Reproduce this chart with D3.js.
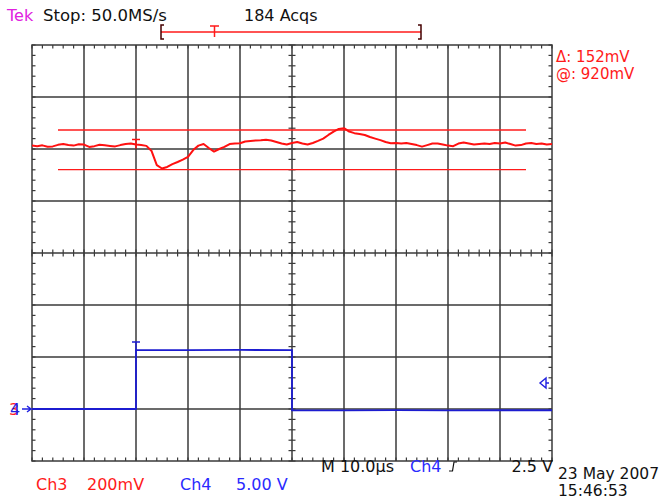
<!DOCTYPE html>
<html>
<head>
<meta charset="utf-8">
<script src="https://cdn.jsdelivr.net/npm/d3@7"></script>
<style>
  body { margin: 0; background: #fff; }
  svg { display: block; }
  text { font-family: 'DejaVu Sans', sans-serif; font-size: 16px; }
</style>
</head>
<body>
<script>
// Ch3 trace, time in µs vs level in mV
const ch3Time = d3.range(-50, 51, 1);
const ch3mV = [
  936, 934, 937, 932, 933, 939, 942, 938, 936, 941,
  940, 931, 934, 939, 937, 935, 933, 938, 942, 944,
  940, 938, 935, 915, 861, 848, 854, 865, 873, 882,
  893, 919, 936, 942, 927, 913, 923, 931, 942, 944,
  945, 952, 954, 956, 957, 959, 956, 950, 944, 940,
  946, 950, 944, 940, 946, 954, 963, 977, 990, 1000,
  1003, 990, 984, 981, 977, 969, 963, 957, 950, 945,
  946, 944, 946, 942, 938, 932, 938, 944, 944, 940,
  936, 934, 944, 948, 944, 940, 942, 944, 942, 946,
  944, 948, 942, 936, 938, 944, 946, 942, 944, 940,
  942
];
// Ch4 trace, time in µs vs volts
const ch4Time = [-50, -30, -30, -20, -10, 0, 0, 10, 20, 30, 40, 50];
const ch4V = [0, 0, 5.67, 5.66, 5.68, 5.66, -0.12, -0.13, -0.11, -0.14, -0.12, -0.12];

// scope settings
const ch3Scale = 200;      // mV/div
const ch3Center = 523;     // mV at screen centre
const ch4Scale = 5;        // V/div
const ch4Center = 15;      // V at screen centre
const cursorLevels = [996, 844]; // mV
const cursorSpan = [-45, 45];    // µs
const trigTime = -30;
const trigLevel = 2.5;

const W = 666, H = 500;
const gLeft = 32, gRight = 552, gTop = 45, gBottom = 461;

const x = d3.scaleLinear().domain([-50, 50]).range([gLeft, gRight]);
const yDiv = d3.scaleLinear().domain([-4, 4]).range([gBottom, gTop]);
const y3 = d3.scaleLinear().domain([ch3Center - 4 * ch3Scale, ch3Center + 4 * ch3Scale]).range([gBottom, gTop]);
const y4 = d3.scaleLinear().domain([ch4Center - 4 * ch4Scale, ch4Center + 4 * ch4Scale]).range([gBottom, gTop]);

const svg = d3.select('body').append('svg').attr('width', W).attr('height', H);

const grid = svg.append('g').attr('stroke', '#3a3a3a').attr('stroke-width', 1.5).attr('fill', 'none');

grid.selectAll('line.v')
  .data(d3.range(-40, 41, 10))
  .enter().append('line')
  .attr('x1', (d) => x(d)).attr('x2', (d) => x(d))
  .attr('y1', gTop).attr('y2', gBottom);

grid.selectAll('line.h')
  .data(d3.range(-3, 4, 1))
  .enter().append('line')
  .attr('x1', gLeft).attr('x2', gRight)
  .attr('y1', (d) => yDiv(d)).attr('y2', (d) => yDiv(d));

grid.append('rect')
  .attr('x', gLeft).attr('y', gTop)
  .attr('width', gRight - gLeft).attr('height', gBottom - gTop);

// minor ticks
const tMinor = d3.range(-50, 50.01, 2);
const dMinor = d3.range(-4, 4.01, 0.2);
const ticks = svg.append('g').attr('stroke', '#3a3a3a').attr('stroke-width', 1.2);
const tk = 3.5;
ticks.selectAll('line.tt').data(tMinor).enter().append('line')
  .attr('x1', (d) => x(d)).attr('x2', (d) => x(d)).attr('y1', gTop).attr('y2', gTop + tk);
ticks.selectAll('line.tb').data(tMinor).enter().append('line')
  .attr('x1', (d) => x(d)).attr('x2', (d) => x(d)).attr('y1', gBottom - tk).attr('y2', gBottom);
ticks.selectAll('line.tc').data(tMinor).enter().append('line')
  .attr('x1', (d) => x(d)).attr('x2', (d) => x(d)).attr('y1', yDiv(0) - tk).attr('y2', yDiv(0) + tk);
ticks.selectAll('line.tl').data(dMinor).enter().append('line')
  .attr('y1', (d) => yDiv(d)).attr('y2', (d) => yDiv(d)).attr('x1', gLeft).attr('x2', gLeft + tk);
ticks.selectAll('line.tr').data(dMinor).enter().append('line')
  .attr('y1', (d) => yDiv(d)).attr('y2', (d) => yDiv(d)).attr('x1', gRight - tk).attr('x2', gRight);
ticks.selectAll('line.tm').data(dMinor).enter().append('line')
  .attr('y1', (d) => yDiv(d)).attr('y2', (d) => yDiv(d)).attr('x1', x(0) - tk).attr('x2', x(0) + tk);

// cursors
svg.append('g').selectAll('line')
  .data(cursorLevels)
  .enter().append('line')
  .attr('x1', x(cursorSpan[0])).attr('x2', x(cursorSpan[1]))
  .attr('y1', (d) => y3(d)).attr('y2', (d) => y3(d))
  .attr('stroke', '#ff1a1a').attr('stroke-width', 1.3);

// traces
const line3 = d3.line().x((d, i) => x(ch3Time[i])).y((d) => y3(d));
svg.append('path')
  .attr('d', line3(ch3mV))
  .attr('fill', 'none').attr('stroke', '#ff1010').attr('stroke-width', 2).attr('stroke-linejoin', 'round');

const line4 = d3.line().x((d, i) => x(ch4Time[i])).y((d) => y4(d));
svg.append('path')
  .attr('d', line4(ch4V))
  .attr('fill', 'none').attr('stroke', '#1c1cd0').attr('stroke-width', 1.8);

// trigger T markers on traces
function tMark(cx, cy, color) {
  svg.append('path')
    .attr('d', `M${cx - 4},${cy} H${cx + 4} M${cx},${cy} V${cy + 9}`)
    .attr('fill', 'none').attr('stroke', color).attr('stroke-width', 1.5);
}
tMark(x(trigTime), y3(ch3mV[20]) - 5, '#ff1010');
tMark(x(trigTime), y4(ch4V[2]) - 8, '#1c1cd0');

// ground marker for channels
svg.append('text').attr('x', 9).attr('y', y4(0) + 5.5).attr('fill', '#ff2020').text('3');
svg.append('text').attr('x', 10).attr('y', y4(0) + 5.5).attr('fill', '#2020e0').text('4');
svg.append('path')
  .attr('d', `M${22},${y4(0)} H${31} M${27},${y4(0) - 3} L${31},${y4(0)} L${27},${y4(0) + 3}`)
  .attr('fill', 'none').attr('stroke', '#2020e0').attr('stroke-width', 1.4);

// trigger level marker
const tly = y4(trigLevel);
svg.append('path')
  .attr('d', `M${gRight - 3},${tly} H${gRight - 6} M${gRight - 6},${tly - 5} L${gRight - 12},${tly} L${gRight - 6},${tly + 5} Z`)
  .attr('fill', 'none').attr('stroke', '#2020e0').attr('stroke-width', 1.4);

// record bar
const rec = svg.append('g').attr('fill', 'none').attr('stroke-width', 1.5);
rec.append('line').attr('x1', 161).attr('x2', 421).attr('y1', 32).attr('y2', 32).attr('stroke', '#ff1a1a');
rec.append('path').attr('d', 'M164,25 H161 V39 H164').attr('stroke', '#400');
rec.append('path').attr('d', 'M418,25 H421 V39 H418').attr('stroke', '#400');
rec.append('path').attr('d', 'M210,26 H219 M214.5,26 V37').attr('stroke', '#ff1a1a');

// texts
function label(tx, ty, str, color, anchor, size) {
  svg.append('text').attr('x', tx).attr('y', ty).attr('fill', color)
    .attr('text-anchor', anchor || 'start')
    .style('font-size', (size || 16) + 'px')
    .text(str);
}
label(7, 21, 'Tek', '#e020e0');
label(43, 21, 'Stop: 50.0MS/s', '#111', 'start', 16.5);
label(244, 21, '184 Acqs', '#111');
label(556, 62, '\u0394: 152mV', '#ff1a1a', 'start', 15);
label(556, 79, '@: 920mV', '#ff1a1a', 'start', 15);
label(36, 490, 'Ch3', '#ff1a1a');
label(87, 490, '200mV', '#ff1a1a');
label(180, 490, 'Ch4', '#2a2aff');
label(236, 490, '5.00 V', '#2a2aff');
label(321, 472, 'M 10.0\u00b5s', '#111');
label(410, 472, 'Ch4', '#2a2aff');
label(553, 472, '2.5 V', '#111', 'end');
label(558, 479, '23 May 2007', '#111', 'start', 15.5);
label(558, 496, '15:46:53', '#111', 'start', 15.5);
svg.append('path')
  .attr('d', 'M449,471 H452.5 L454,462 H457')
  .attr('fill', 'none').attr('stroke', '#111').attr('stroke-width', 1.2);
</script>
</body>
</html>
